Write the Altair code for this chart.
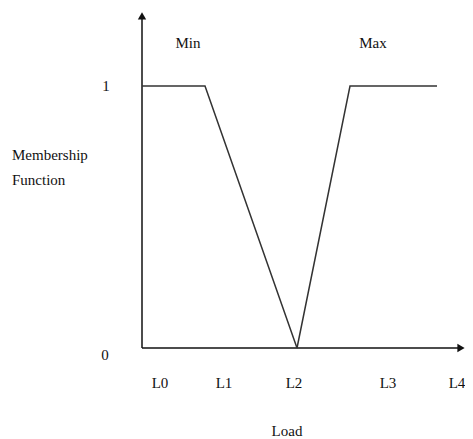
import altair as alt
import pandas as pd

# membership function breakpoints (load units, arbitrary)
min_x = [0.0, 0.63, 1.55]
min_y = [1, 1, 0]
max_x = [1.55, 2.08, 2.95]
max_y = [0, 1, 1]

tick_labels = ["L0", "L1", "L2", "L3", "L4"]
tick_pos = [0.18, 0.82, 1.52, 2.46, 3.15]

XD = [-1.34, 3.23]
YD = [-0.3473, 1.2977]
W, H = 457, 431

xs = alt.Scale(domain=XD, nice=False, zero=False)
ys = alt.Scale(domain=YD, nice=False, zero=False)
FONT = "Liberation Serif"

lines = pd.DataFrame({
    "x": min_x + max_x,
    "y": min_y + max_y,
    "s": ["Min"] * 3 + ["Max"] * 3,
    "o": list(range(6)),
})

base = alt.Chart(lines)
curve = base.mark_line(color="#333333", strokeWidth=1.5, clip=False).encode(
    x=alt.X("x:Q", scale=xs, axis=None),
    y=alt.Y("y:Q", scale=ys, axis=None),
    detail="s:N",
    order="o:Q",
)

axes_df = pd.DataFrame({"x": [0, 0], "y": [0, 0], "x2": [0, 3.2], "y2": [1.27, 0]})
axes = alt.Chart(axes_df).mark_rule(color="#111111", strokeWidth=1.5, clip=False).encode(
    x=alt.X("x:Q", scale=xs, axis=None),
    y=alt.Y("y:Q", scale=ys, axis=None),
    x2="x2:Q",
    y2="y2:Q",
)

up = alt.Chart(pd.DataFrame({"x": [0], "y": [1.268]})).mark_point(
    shape="triangle-up", filled=True, color="#111111", size=70, opacity=1, clip=False
).encode(x=alt.X("x:Q", scale=xs, axis=None), y=alt.Y("y:Q", scale=ys, axis=None))

right = alt.Chart(pd.DataFrame({"x": [3.19], "y": [0]})).mark_point(
    shape="triangle-right", filled=True, color="#111111", size=70, opacity=1, clip=False
).encode(x=alt.X("x:Q", scale=xs, axis=None), y=alt.Y("y:Q", scale=ys, axis=None))

texts = pd.DataFrame({
    "x": tick_pos + [-0.36, -0.37, 0.46, 2.31, 1.45],
    "y": [-0.134] * 5 + [1.0, -0.027, 1.164, 1.164, -0.316],
    "t": tick_labels + ["1", "0", "Min", "Max", "Load"],
})
txt = alt.Chart(texts).mark_text(font=FONT, fontSize=15, color="#111111", clip=False).encode(
    x=alt.X("x:Q", scale=xs, axis=None),
    y=alt.Y("y:Q", scale=ys, axis=None),
    text="t:N",
)

ylab = pd.DataFrame({"x": [-1.30, -1.30], "y": [0.737, 0.641], "t": ["Membership", "Function"]})
ytxt = alt.Chart(ylab).mark_text(font=FONT, fontSize=15, color="#111111", align="left", clip=False).encode(
    x=alt.X("x:Q", scale=xs, axis=None),
    y=alt.Y("y:Q", scale=ys, axis=None),
    text="t:N",
)

chart = alt.layer(axes, curve, up, right, txt, ytxt).properties(
    width=W, height=H, padding=0, autosize=alt.AutoSizeParams(type="none")
).configure_view(stroke=None)

chart.save("out.html", embed_options={"renderer": "svg", "actions": False})
